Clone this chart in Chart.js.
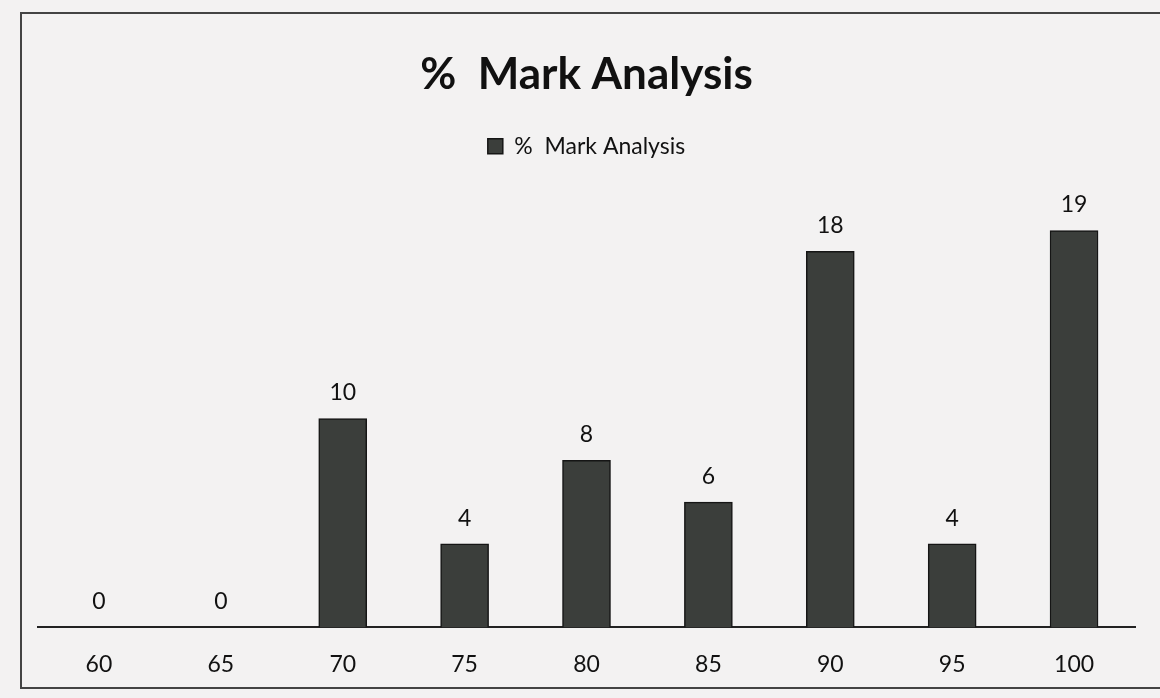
<!DOCTYPE html>
<html>
<head>
<meta charset="utf-8">
<script src="https://cdn.jsdelivr.net/npm/chart.js@4"></script>
<style>
  html, body { margin: 0; padding: 0; background: #f3f2f2; }
  #wrap { position: relative; width: 1160px; height: 698px; }
  #frame { position: absolute; left: 20px; top: 12px; width: 1150px; height: 677px; border: 2px solid #444; box-sizing: border-box; }
  canvas { position: absolute; left: 0; top: 0; }
</style>
</head>
<body>
<div id="wrap">
  <div id="frame"></div>
  <canvas id="barChart" width="1160" height="698"></canvas>
</div>
<script>
// Catégories et valeurs
const marks = ['60', '65', '70', '75', '80', '85', '90', '95', '100'];
const counts = [0, 0, 10, 4, 8, 6, 18, 4, 19];

// Étiquettes de valeurs au-dessus des barres
const valueLabels = {
    id: 'valueLabels',
    afterDatasetsDraw(chart) {
        const ctx = chart.ctx;
        const meta = chart.getDatasetMeta(0);
        ctx.save();
        ctx.font = '23px Lato, "Open Sans", sans-serif';
        ctx.fillStyle = '#111';
        ctx.textAlign = 'center';
        ctx.textBaseline = 'bottom';
        meta.data.forEach((bar, i) => {
            ctx.fillText(counts[i], bar.x, bar.y - 14);
        });
        ctx.restore();
    }
};

const barConfig = {
    type: 'bar',
    data: {
        labels: marks,
        datasets: [{
            label: '%  Mark Analysis',
            data: counts,
            backgroundColor: '#3b3e3b',
            borderColor: '#151515',
            borderWidth: 1.5,
            barThickness: 48
        }]
    },
    options: {
        responsive: false,
        animation: false,
        layout: { padding: { left: 38, right: 25, top: 0, bottom: 5 } },
        scales: {
            x: {
                grid: { display: false },
                border: { display: true, color: '#222', width: 2 },
                ticks: { color: '#111', font: { size: 23, family: 'Lato, "Open Sans", sans-serif' }, padding: 15 }
            },
            y: {
                display: false,
                min: 0,
                max: 22
            }
        },
        plugins: {
            title: {
                display: true,
                text: '%  Mark Analysis',
                color: '#111',
                font: { size: 44, weight: 'bold', family: 'Lato, "Open Sans", sans-serif' },
                padding: { top: 48, bottom: 24 }
            },
            legend: {
                display: true,
                position: 'top',
                labels: {
                    color: '#111',
                    font: { size: 23, family: 'Lato, "Open Sans", sans-serif' },
                    boxWidth: 15,
                    boxHeight: 15
                }
            },
            tooltip: { enabled: false }
        }
    },
    plugins: [valueLabels]
};

const barChart = new Chart(document.getElementById('barChart'), barConfig);
</script>
</body>
</html>
